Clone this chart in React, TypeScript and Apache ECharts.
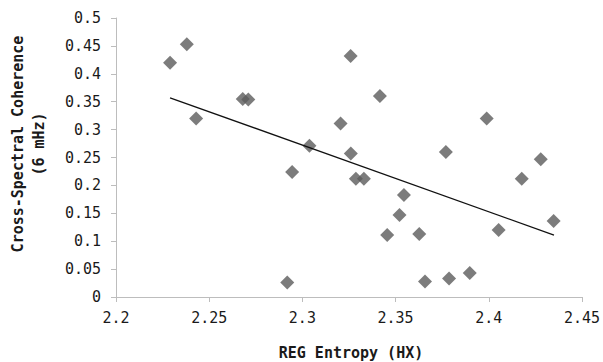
import React, { useEffect, useRef } from "react";
import * as echarts from "echarts";

const entropyX = [
  2.229, 2.238, 2.243, 2.268, 2.271, 2.2945, 2.2919, 2.3038, 2.3205, 2.3259,
  2.326, 2.3287, 2.333, 2.3416, 2.3455, 2.3521, 2.3545, 2.3627, 2.3658, 2.377,
  2.3787, 2.3898, 2.3989, 2.4053, 2.4177, 2.4279, 2.4348,
];
const coherenceY = [
  0.42, 0.453, 0.32, 0.355, 0.354, 0.224, 0.026, 0.271, 0.311, 0.432,
  0.257, 0.212, 0.212, 0.36, 0.111, 0.147, 0.183, 0.113, 0.028, 0.26,
  0.033, 0.043, 0.32, 0.12, 0.212, 0.247, 0.136,
];
const trendX = [2.229, 2.435];
const trendY = [0.357, 0.111];

const xTicks = { min: 2.2, max: 2.45, interval: 0.05 };
const yTicks = { min: 0, max: 0.5, interval: 0.05 };

const MONO = "'DejaVu Sans Mono', monospace";

export default function App() {
  const ref = useRef<HTMLDivElement>(null);
  useEffect(() => {
    document.body.style.margin = "0";
    if (!ref.current) return;
    const chart = echarts.init(ref.current, null, { renderer: "svg" });
    const axisLine = { show: true, lineStyle: { color: "#bdbdbd", width: 1 } };
    chart.setOption({
      animation: false,
      backgroundColor: "#ffffff",
      grid: { left: 116, right: 19, top: 18, bottom: 65 },
      xAxis: {
        type: "value",
        min: xTicks.min,
        max: xTicks.max,
        interval: xTicks.interval,
        axisLine,
        axisTick: { show: true, length: 5, lineStyle: { color: "#bdbdbd" } },
        splitLine: { show: false },
        axisLabel: {
          margin: 13,
          fontFamily: MONO,
          fontSize: 15,
          color: "#1a1a1a",
          formatter: (v: number) => String(Math.round(v * 100) / 100),
        },
      },
      yAxis: {
        type: "value",
        min: yTicks.min,
        max: yTicks.max,
        interval: yTicks.interval,
        axisLine,
        axisTick: { show: true, length: 5, lineStyle: { color: "#bdbdbd" } },
        splitLine: { show: false },
        axisLabel: {
          margin: 15,
          fontFamily: MONO,
          fontSize: 15,
          color: "#1a1a1a",
          formatter: (v: number) => String(Math.round(v * 100) / 100),
        },
      },
      graphic: [
        {
          type: "text",
          x: 28,
          y: 144,
          rotation: Math.PI / 2,
          style: {
            text: "Cross-Spectral Coherence\n(6 mHz)",
            font: `bold 15px ${MONO}`,
            fill: "#1a1a1a",
            align: "center",
            verticalAlign: "middle",
            lineHeight: 21,
          },
        },
        {
          type: "text",
          x: 351,
          y: 353,
          style: {
            text: "REG Entropy (HX)",
            font: `bold 15px ${MONO}`,
            fill: "#1a1a1a",
            align: "center",
            verticalAlign: "middle",
          },
        },
      ],
      series: [
        {
          type: "scatter",
          symbol: "diamond",
          symbolSize: 14,
          itemStyle: { color: "#5b5b5b" },
          data: entropyX.map((x, i) => [x, coherenceY[i]]),
          z: 2,
        },
        {
          type: "line",
          symbol: "none",
          lineStyle: { color: "#111111", width: 1.3 },
          data: trendX.map((x, i) => [x, trendY[i]]),
          z: 3,
        },
      ],
    });
    return () => chart.dispose();
  }, []);
  return <div ref={ref} style={{ width: 603, height: 362 }} />;
}
